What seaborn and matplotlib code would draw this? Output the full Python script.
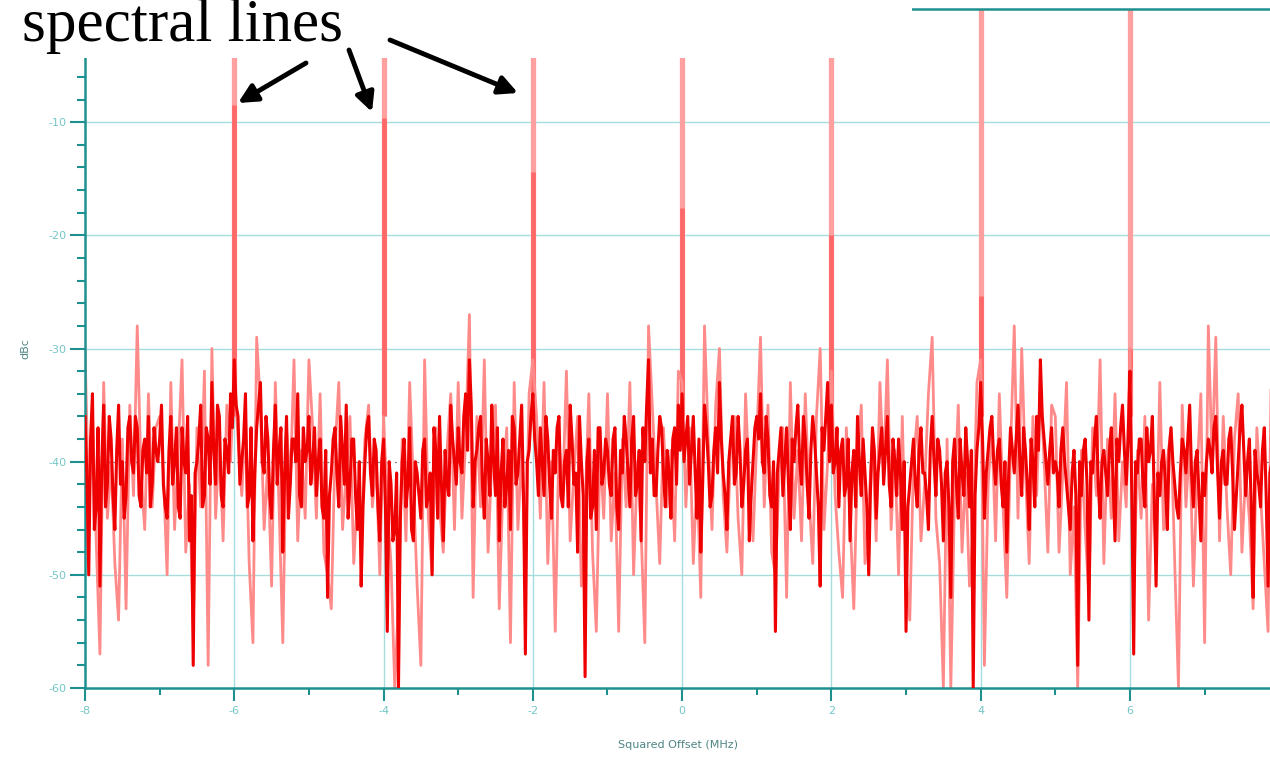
# Spectrum with spectral lines - dBc vs squared offset

import seaborn as sns
import matplotlib.pyplot as plt
import numpy as np
import pandas as pd
from matplotlib.patches import Rectangle, FancyArrowPatch
from matplotlib.ticker import MultipleLocator

# frequency grid: -8 MHz to 7.95 MHz, 0.05 MHz steps (20 samples per MHz)
offset_start = -8.0
offset_step = 0.05

# dark trace, one row per MHz (-8, -7, ... 7)
dark_dbc = [
    -36, -50, -34, -44, -51, -35, -42, -38, -46, -35, -40, -43, -36, -41, -37, -44, -38, -36, -42, -39,
    -38, -42, -45, -36, -40, -44, -37, -41, -47, -58, -40, -35, -43, -38, -33, -42, -36, -44, -39, -34,
    -31, -36, -40, -34, -43, -47, -37, -33, -41, -38, -45, -35, -39, -48, -36, -42, -38, -34, -44, -40,
    -36, -40, -43, -38, -45, -52, -41, -37, -44, -39, -35, -42, -38, -46, -51, -40, -36, -43, -39, -47,
    -38, -55, -42, -46, -60, -40, -44, -37, -47, -41, -45, -38, -43, -50, -39, -36, -47, -42, -35, -40,
    -37, -41, -34, -31, -44, -39, -36, -45, -40, -35, -43, -47, -38, -42, -46, -37, -41, -35, -57, -39,
    -34, -40, -37, -43, -38, -45, -41, -36, -44, -39, -35, -42, -48, -40, -59, -38, -44, -46, -37, -41,
    -39, -43, -37, -46, -41, -38, -44, -36, -42, -47, -40, -31, -38, -43, -36, -41, -39, -45, -37, -35,
    -34, -38, -42, -36, -45, -48, -35, -40, -43, -37, -33, -41, -46, -38, -42, -36, -44, -39, -47, -40,
    -36, -34, -41, -38, -44, -55, -39, -43, -37, -46, -40, -35, -42, -38, -45, -36, -41, -51, -39, -33,
    -35, -40, -44, -38, -42, -47, -39, -36, -43, -41, -50, -37, -45, -39, -42, -36, -44, -40, -38, -46,
    -55, -42, -38, -44, -37, -41, -46, -36, -43, -39, -47, -40, -52, -38, -45, -41, -37, -44, -60, -39,
    -33, -45, -39, -36, -42, -38, -44, -48, -37, -41, -35, -43, -39, -46, -40, -36, -31, -38, -42, -37,
    -40, -44, -37, -42, -46, -39, -58, -43, -38, -54, -41, -36, -45, -39, -43, -37, -47, -40, -35, -42,
    -32, -57, -41, -38, -44, -40, -36, -51, -43, -39, -46, -37, -42, -45, -38, -41, -35, -44, -39, -47,
    -43, -38, -41, -36, -45, -39, -42, -37, -46, -40, -35, -43, -38, -52, -41, -44, -37, -51, -40, -38,
]

# dark trace samples half-way between the ones above (offset + 0.025 MHz)
dark_mid_dbc = [
    -41, -38, -46, -37, -40, -44, -36, -43, -39, -42, -45, -37, -40, -36, -43, -39, -41, -44, -37, -40,
    -35, -44, -39, -42, -37, -45, -40, -36, -43, -41, -38, -44, -37, -42, -39, -35, -43, -38, -41, -37,
    -35, -42, -38, -44, -37, -41, -35, -40, -36, -43, -39, -42, -37, -41, -45, -38, -40, -43, -37, -39,
    -42, -37, -40, -44, -39, -43, -38, -41, -36, -42, -45, -38, -43, -40, -44, -37, -41, -38, -44, -40,
    -44, -40, -47, -41, -45, -38, -42, -46, -40, -43, -39, -44, -41, -37, -45, -42, -39, -43, -38, -42,
    -40, -36, -39, -35, -40, -37, -42, -38, -43, -40, -37, -41, -44, -39, -36, -42, -38, -43, -40, -36,
    -38, -43, -40, -36, -42, -39, -37, -43, -40, -44, -38, -41, -36, -43, -40, -45, -39, -37, -42, -38,
    -42, -38, -44, -39, -36, -41, -38, -43, -39, -37, -35, -41, -43, -39, -37, -44, -41, -38, -42, -39,
    -40, -36, -39, -41, -38, -42, -37, -44, -39, -41, -38, -43, -40, -36, -41, -39, -42, -38, -43, -37,
    -38, -40, -36, -43, -40, -41, -37, -40, -42, -38, -37, -40, -36, -42, -39, -38, -44, -37, -36, -40,
    -41, -37, -39, -43, -38, -41, -44, -40, -38, -44, -42, -39, -41, -37, -39, -42, -38, -43, -41, -40,
    -44, -40, -42, -39, -41, -43, -39, -40, -38, -42, -41, -44, -40, -42, -38, -43, -40, -39, -43, -37,
    -38, -41, -37, -40, -39, -42, -40, -41, -39, -38, -40, -37, -42, -38, -44, -39, -36, -40, -39, -41,
    -41, -39, -40, -44, -41, -43, -40, -39, -42, -40, -38, -42, -40, -41, -39, -42, -38, -37, -39, -38,
    -43, -40, -38, -42, -37, -39, -43, -41, -40, -42, -39, -40, -44, -41, -39, -38, -41, -40, -43, -41,
    -40, -39, -37, -41, -40, -42, -38, -41, -43, -37, -39, -40, -44, -39, -42, -39, -43, -41, -37, -40,
]

# light (max-hold) trace
light_dbc = [
    -30, -44, -36, -47, -57, -33, -45, -40, -49, -54, -38, -53, -35, -43, -28, -41, -46, -34, -44, -37,
    -36, -41, -50, -33, -46, -39, -31, -48, -42, -55, -37, -44, -32, -58, -30, -45, -38, -47, -35, -40,
    -32, -38, -43, -36, -49, -56, -29, -35, -46, -40, -51, -33, -44, -56, -37, -42, -31, -47, -39, -45,
    -31, -37, -45, -34, -48, -50, -53, -39, -33, -46, -41, -36, -49, -43, -47, -38, -35, -44, -40, -50,
    -36, -44, -49, -60, -52, -38, -47, -33, -42, -51, -58, -31, -45, -50, -37, -44, -48, -39, -34, -46,
    -33, -45, -38, -27, -52, -36, -44, -31, -48, -40, -35, -53, -42, -37, -56, -33, -46, -39, -50, -34,
    -31, -36, -45, -33, -49, -40, -55, -38, -43, -32, -47, -41, -36, -51, -44, -34, -48, -55, -39, -45,
    -34, -47, -41, -55, -38, -44, -33, -50, -40, -46, -56, -28, -35, -42, -49, -37, -44, -39, -47, -32,
    -33, -44, -37, -49, -41, -52, -28, -38, -46, -35, -30, -43, -48, -39, -36, -45, -50, -34, -42, -47,
    -38, -29, -44, -35, -48, -50, -41, -37, -52, -33, -45, -39, -47, -34, -43, -49, -36, -30, -46, -40,
    -32, -43, -48, -52, -37, -45, -53, -40, -35, -49, -44, -38, -47, -33, -41, -31, -46, -39, -50, -36,
    -50, -54, -40, -36, -47, -42, -34, -29, -45, -49, -60, -38, -60, -43, -35, -48, -41, -51, -46, -33,
    -31, -58, -42, -37, -47, -34, -44, -52, -39, -28, -45, -30, -41, -49, -36, -43, -33, -40, -48, -35,
    -36, -48, -41, -33, -50, -44, -60, -39, -46, -52, -37, -43, -31, -49, -38, -45, -34, -47, -40, -44,
    -30, -52, -39, -45, -36, -54, -42, -48, -33, -46, -40, -37, -49, -60, -35, -44, -38, -51, -41, -34,
    -56, -28, -40, -29, -47, -36, -44, -50, -38, -34, -48, -41, -45, -53, -37, -43, -49, -55, -28, -42,
]

# spectral lines: position (MHz) and peak level of the dark trace (dBc)
line_mhz = [-6, -4, -2, 0, 2, 4, 6]
line_peak_dbc = [-8.5, -9.6, -14.4, -17.6, -20.0, -25.4, -30.0]
line_base_dbc = -36

offset_mhz = offset_start + offset_step * np.arange(len(dark_dbc))
light_df = pd.DataFrame({'offset': offset_mhz, 'dbc': light_dbc})
dark_df = pd.concat([
    pd.DataFrame({'offset': offset_mhz, 'dbc': dark_dbc}),
    pd.DataFrame({'offset': offset_mhz + offset_step / 2, 'dbc': dark_mid_dbc}),
]).sort_values('offset')

W, H = 1270, 757
teal = '#1f9090'
grid_teal = '#a6dcdc'
label_teal = '#74c6c6'

sns.set_style('white')
plt.rcParams['axes.unicode_minus'] = False
fig = plt.figure(figsize=(12.7, 7.57), dpi=100)
ax = fig.add_axes([85 / W, 1 - 688 / H, (W - 85) / W, (688 - 9) / H])

# grid
for y in [-10, -20, -30, -50]:
    ax.axhline(y, color=grid_teal, lw=1.0, zorder=0)
ax.axhline(-40, color='#777777', lw=0.9, ls=(0, (1.5, 3)), zorder=0)
for x in line_mhz:
    ax.axvline(x, color=grid_teal, lw=1.0, zorder=0)

# spectral lines (light, full height) and their dark part
ax.vlines(line_mhz, line_base_dbc, 0, color='#ffa0a0', lw=3.8, zorder=1)
ax.vlines(line_mhz, line_base_dbc, line_peak_dbc, color='#ff6868', lw=3.4, zorder=1)

sns.lineplot(data=light_df, x='offset', y='dbc', color='#ff8a8a', lw=2.0,
             estimator=None, ax=ax, zorder=2)
sns.lineplot(data=dark_df, x='offset', y='dbc', color='#ee0000', lw=2.2,
             estimator=None, ax=ax, zorder=3)

ax.set_xlim(-8, -8 + (W - 85) / 74.64)
ax.set_ylim(-60, 0)
ax.set_xticks(range(-8, 8, 2))
ax.xaxis.set_minor_locator(MultipleLocator(1))
ax.set_yticks(range(-60, 0, 10))
ax.yaxis.set_minor_locator(MultipleLocator(2))
ax.tick_params(axis='both', which='both', direction='out', color=teal,
               labelcolor=label_teal, labelsize=8, width=1.5)
ax.tick_params(axis='x', which='major', length=9, pad=4)
ax.tick_params(axis='x', which='minor', length=5)
ax.tick_params(axis='y', which='major', length=11, pad=2)
ax.tick_params(axis='y', which='minor', length=6)
ax.tick_params(bottom=True, left=True, which='both')

for side in ['left', 'bottom', 'top']:
    ax.spines[side].set_color(teal)
    ax.spines[side].set_linewidth(1.8)
ax.spines['right'].set_visible(False)

ax.set_xlabel('Squared Offset (MHz)', color='#4f8585', fontsize=8, labelpad=17)
ax.set_ylabel('dBc', color='#4f8585', fontsize=8, labelpad=13)

# white box with the annotation over the top-left corner
fig.patches.append(Rectangle((0, 1 - 58 / H), 912 / W, 58 / H, transform=fig.transFigure,
                             facecolor='white', edgecolor='none', zorder=5))
fig.text(22 / W, 1 - 41 / H, 'spectral lines', fontsize=44, family='Liberation Serif',
         va='baseline', ha='left', color='black', zorder=6)

arrows = [((306, 63), (238, 103)), ((349, 50), (372, 112)), ((390, 40), (518, 93))]
for (x0, y0), (x1, y1) in arrows:
    fig.patches.append(FancyArrowPatch((x0 / W, 1 - y0 / H), (x1 / W, 1 - y1 / H),
                                       transform=fig.transFigure, arrowstyle='-|>',
                                       mutation_scale=28, lw=3.5, color='black',
                                       shrinkA=0, shrinkB=0, zorder=6))

plt.savefig('out.png', dpi=100)
plt.close()
